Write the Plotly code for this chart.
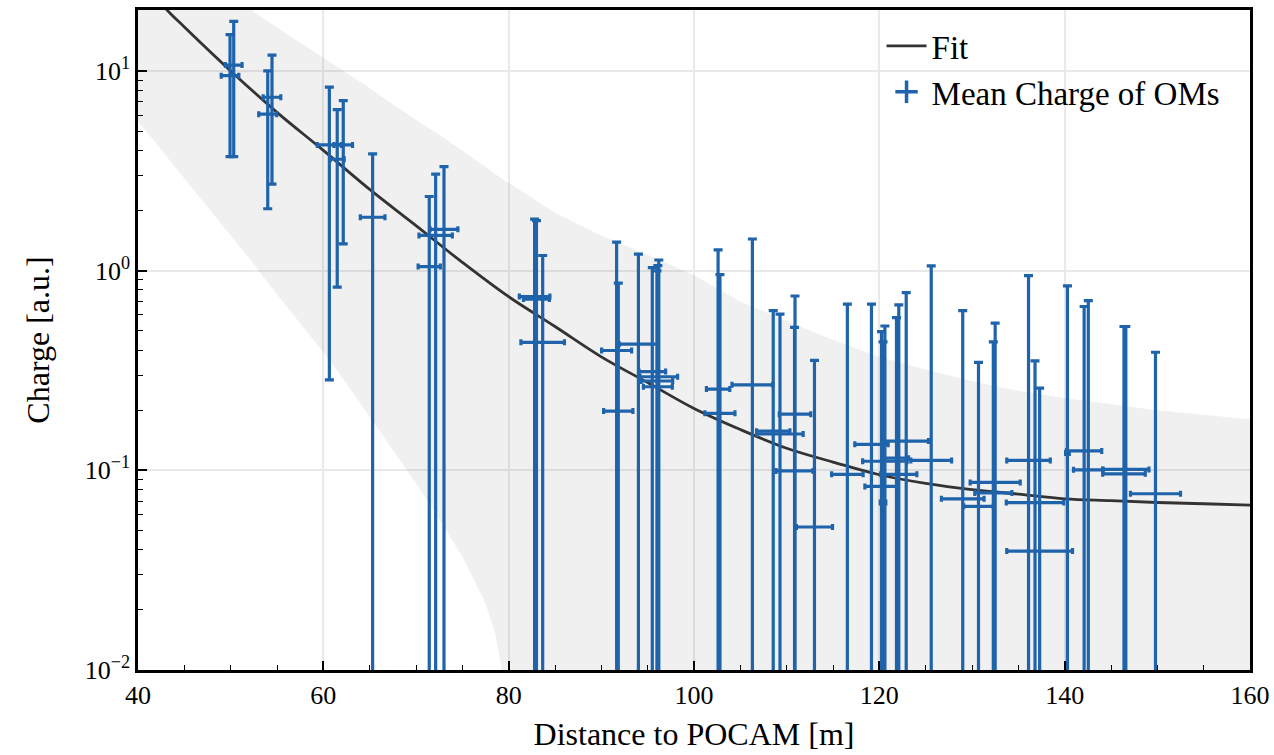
import plotly.graph_objects as go

# ---------------- data ----------------
dist = [49.93, 50.33, 54.0, 54.46, 60.65, 61.5, 62.15, 65.32, 71.43, 72.12, 73.02,
        82.8, 83.0, 83.67, 91.65, 91.83, 94.0, 95.5, 96.2, 96.0, 96.1,
        102.6, 102.8, 106.3, 108.55, 109.28, 110.9, 110.85, 113.0, 116.55, 119.15,
        120.24, 120.4, 120.6, 121.85, 122.1, 122.9, 125.6, 129.0, 130.7, 132.5,
        132.3, 136.1, 136.8, 137.3, 140.3, 142.1, 142.55, 146.4, 146.6, 149.8]
dist_err = [0.95, 0.9, 0.97, 0.95, 1.3, 0.75, 1.0, 1.33, 1.2, 1.8, 1.5,
            1.65, 1.4, 2.35, 1.62, 1.58, 2.07, 1.44, 2.03, 1.7, 1.56,
            1.26, 1.62, 2.2, 1.8, 2.5, 1.7, 2.0, 1.95, 1.7, 1.8,
            1.8, 0.3, 2.4, 1.3, 1.95, 2.4, 2.2, 2.3, 1.6, 2.7,
            2.0, 2.35, 3.1, 3.55, 0.2, 1.9, 1.6, 2.3, 2.5, 2.7]
charge = [9.47, 10.7, 6.07, 7.38, 4.26, 3.61, 4.26, 1.85, 1.047, 1.50, 1.61,
          0.741, 0.72, 0.4375, 0.398, 0.198, 0.428, 0.312, 0.294, 0.28, 0.262,
          0.255, 0.193, 0.268, 0.157, 0.152, 0.191, 0.0993, 0.052, 0.0955, 0.135,
          0.083, 0.069, 0.111, 0.115, 0.0955, 0.14, 0.112, 0.072, 0.066, 0.087,
          0.077, 0.112, 0.0689, 0.0394, 0.122, 0.125, 0.1005, 0.096, 0.101, 0.0763]
charge_hi = [15.2, 17.7, 10.0, 12.0, 8.3, 6.4, 7.1, 3.84, 2.35, 3.04, 3.32,
             1.81, 1.78, 1.19, 1.39, 0.865, 1.21, 1.035, 1.13, 0.996, 1.06,
             1.27, 0.955, 1.44, 0.63, 0.605, 0.746, 0.52, 0.355, 0.68, 0.68,
             0.495, 0.44, 0.528, 0.582, 0.673, 0.776, 1.057, 0.63, 0.347, 0.546,
             0.44, 0.944, 0.353, 0.258, 0.838, 0.661, 0.708, 0.525, 0.525, 0.39]
# lower ends of the charge error bars (0 = reaches below the axis)
charge_lo = [3.72, 3.72, 2.04, 2.71, 0.284, 0.826, 1.36] + [0.0] * 44

fit_x = [40, 43, 45, 50, 55, 60, 65, 70, 75, 80, 85, 90, 95, 100, 105, 110, 115,
         120, 125, 130, 135, 140, 145, 150, 155, 160]
fit_y = [31, 20.5, 16.6, 10.0, 6.2, 4.0, 2.55, 1.68, 1.1, 0.74, 0.525, 0.37, 0.275,
         0.204, 0.16, 0.129, 0.11, 0.095, 0.086, 0.08, 0.076, 0.072, 0.0705, 0.069,
         0.068, 0.067]

band_x = [40, 45, 50, 52, 55, 60, 62.5, 65, 67.5, 70, 72.5, 75, 77.5, 78.5, 79.2,
          80, 85, 90, 95, 100, 105, 110, 115, 120, 125, 130, 135, 140, 145, 150,
          155, 160]
band_hi = [47, 33, 25, 20.5, 16.5, 11.7, 9.8, 8.2, 6.8, 5.7, 4.8, 4.0, 3.3, 3.05,
           2.9, 2.75, 1.95, 1.5, 1.2, 0.95, 0.7, 0.56, 0.45, 0.37, 0.32, 0.28, 0.25,
           0.23, 0.215, 0.2, 0.19, 0.18]
band_lo = [5.6, 2.88, 1.48, 1.15, 0.76, 0.39, 0.272, 0.185, 0.127, 0.086, 0.057,
           0.037, 0.0215, 0.0155, 0.0105, 1e-4, 1e-4, 1e-4, 1e-4, 1e-4, 1e-4, 1e-4,
           1e-4, 1e-4, 1e-4, 1e-4, 1e-4, 1e-4, 1e-4, 1e-4, 1e-4, 1e-4]

y_ticks = [0.01, 0.1, 1, 10]
y_ticktext = ["10<sup>−2</sup>", "10<sup>−1</sup>", "10<sup>0</sup>", "10<sup>1</sup>"]

# ---------------- figure ----------------
BLUE = "#1f63ab"
FONT = "Liberation Serif"

err_plus = [h - c for h, c in zip(charge_hi, charge)]
err_minus = [c - l for c, l in zip(charge, charge_lo)]

fig = go.Figure()

# uncertainty band
fig.add_trace(go.Scatter(x=band_x, y=band_lo, mode="lines", line=dict(width=0),
                         showlegend=False, hoverinfo="skip"))
fig.add_trace(go.Scatter(x=band_x, y=band_hi, mode="lines", line=dict(width=0),
                         fill="tonexty", fillcolor="rgba(0,0,0,0.058)",
                         showlegend=False, hoverinfo="skip"))

# fit
fig.add_trace(go.Scatter(x=fit_x, y=fit_y, mode="lines", name="Fit",
                         line=dict(color="#333333", width=2.8, shape="spline")))

# data points with error bars
fig.add_trace(go.Scatter(
    x=dist, y=charge, mode="markers", showlegend=False,
    marker=dict(size=1, color="rgba(0,0,0,0)"),
    error_x=dict(type="data", array=dist_err, color=BLUE, thickness=3.2, width=3),
    error_y=dict(type="data", array=err_plus, arrayminus=err_minus, symmetric=False,
                 color=BLUE, thickness=3.2, width=4.5),
))
# legend entry for points
fig.add_trace(go.Scatter(x=[None], y=[None], mode="markers", name="Mean Charge of OMs",
                         marker=dict(symbol="cross-thin", size=22,
                                     line=dict(width=3.5, color=BLUE), color=BLUE)))

minor_y = [m * 10 ** e for e in (-2, -1, 0, 1) for m in range(2, 10)]

fig.update_layout(
    width=1274, height=755,
    margin=dict(l=138, r=24, t=10, b=85),
    paper_bgcolor="white", plot_bgcolor="white",
    font=dict(family=FONT, size=26, color="black"),
    legend=dict(x=0.978, xanchor="right", y=0.988, yanchor="top",
                font=dict(size=33, family=FONT), bgcolor="rgba(0,0,0,0)",
                traceorder="normal", itemwidth=40, tracegroupgap=0),
    showlegend=True,
)
fig.update_xaxes(
    range=[40, 160], tickvals=[40, 60, 80, 100, 120, 140, 160], automargin=False,
    ticks="inside", ticklen=9, tickwidth=2, tickcolor="black",
    minor=dict(dtick=5, tick0=40, ticks="inside", ticklen=5, tickwidth=1.3,
               tickcolor="black", showgrid=False),
    showgrid=True, gridcolor="#e9e9e9", gridwidth=2,
    showline=True, linewidth=2.5, linecolor="black", mirror=True,
    tickfont=dict(size=26, family=FONT),
    title=dict(text="Distance to POCAM [m]", font=dict(size=32, family=FONT), standoff=14),
    zeroline=False,
)
fig.update_yaxes(
    type="log", range=[-2, 1.305], automargin=False,
    tickmode="array", tickvals=y_ticks, ticktext=y_ticktext,
    ticks="inside", ticklen=9, tickwidth=2, tickcolor="black",
    minor=dict(tickmode="array", tickvals=minor_y, ticks="inside", ticklen=5,
               tickwidth=1.3, tickcolor="black", showgrid=False),
    showgrid=True, gridcolor="#e9e9e9", gridwidth=2,
    showline=True, linewidth=2.5, linecolor="black", mirror=True,
    tickfont=dict(size=26, family=FONT),
    title=dict(text="Charge [a.u.]", font=dict(size=32, family=FONT), standoff=26),
    zeroline=False,
)

fig.write_html("out.html")
